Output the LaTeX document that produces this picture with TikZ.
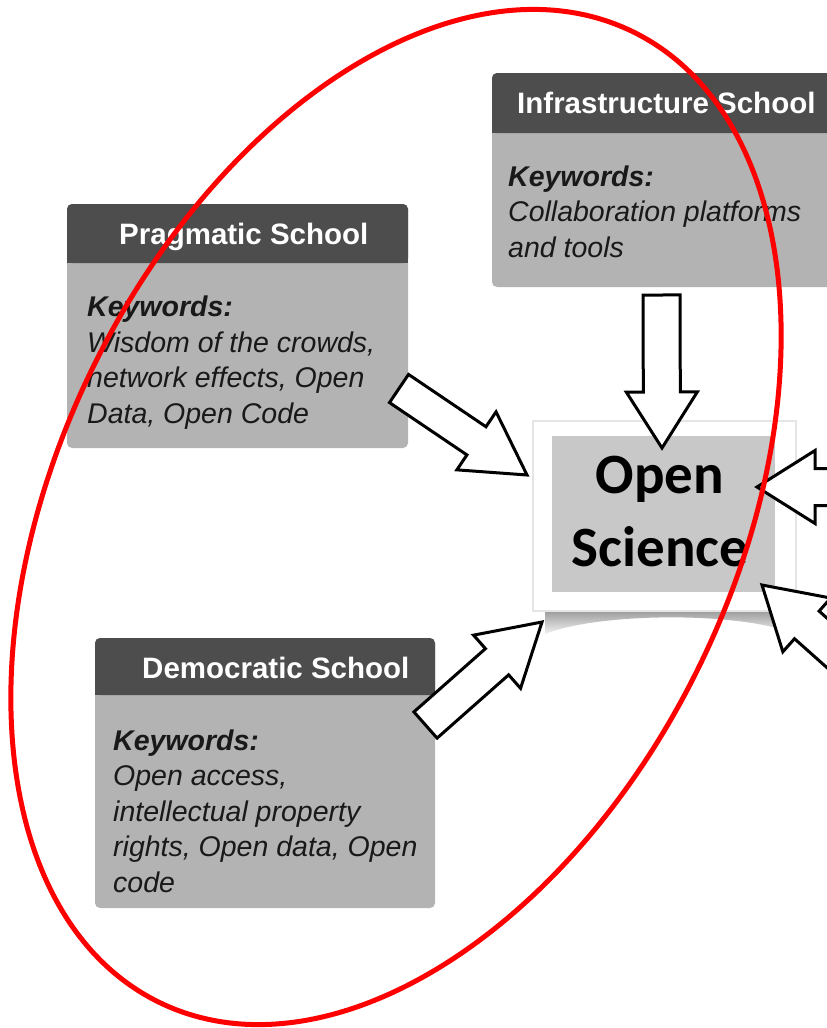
\documentclass[tikz,border=0pt]{standalone}
\usepackage{fontspec}
\setmainfont{Liberation Sans}
\newfontfamily\osfont{Carlito}
\usetikzlibrary{calc}
\definecolor{hdr}{HTML}{4D4D4D}
\definecolor{bdy}{HTML}{B3B3B3}
\definecolor{osbox}{HTML}{C8C8C8}
\definecolor{ringred}{HTML}{FF0000}
\tikzset{
  hdrtext/.style={anchor=base west, inner sep=0pt, text=white, font=\fontsize{29.5}{35}\selectfont\bfseries},
  bodytext/.style={anchor=base west, inner sep=0pt, align=left, text=black!90, font=\fontsize{28.5}{35.5}\selectfont\itshape},
  ostext/.style={anchor=base, inner sep=0pt, align=center, text=black, font=\osfont\fontsize{57}{73}\selectfont\bfseries},
  blockarrow/.style={draw=black, fill=white, line width=3pt, line join=miter},
  ring/.style={draw=ringred, line width=5pt}
}
\newcommand\schoolpanel[5]{%
  \fill[bdy, rounded corners=5pt] (#1,#2) rectangle (#4,#5);
  \fill[hdr, rounded corners=5pt] (#1,#2) rectangle (#4,#3);
  \fill[hdr] (#1,#3-8) rectangle (#4,#3);
}
% name, tail, tip, shaft half width, head half width, head length
\newcommand\blockarr[6]{%
  \coordinate (#1h) at ($(#3)!#6pt!(#2)$);
  \draw[blockarrow] ($(#2)!#4pt!90:(#3)$) -- ($(#1h)!#4pt!90:(#3)$) -- ($(#1h)!#5pt!90:(#3)$) -- (#3)
     -- ($(#1h)!#5pt!-90:(#3)$) -- ($(#1h)!#4pt!-90:(#3)$) -- ($(#2)!#4pt!-90:(#3)$) -- cycle;
}
\begin{document}
\begin{tikzpicture}[x=1pt,y=-1pt]
\useasboundingbox (0,0) rectangle (827,1028);
\clip (0,0) rectangle (827,1028);
\fill[white] (0,0) rectangle (827,1028);

% school panels
\schoolpanel{492}{73}{133}{860}{287}
\schoolpanel{67}{204}{263}{408}{448}
\schoolpanel{95}{638}{695}{435}{908}

% multi-line nodes: base anchor = baseline of the last line
\node[hdrtext] (infraH) at (517,113) {Infrastructure School};
\node[bodytext] (infraK) at (508,257) {\textbf{Keywords:}\\Collaboration platforms\\and tools};
\node[hdrtext] (pragH) at (119,244) {Pragmatic School};
\node[bodytext] (pragK) at (87,423) {\textbf{Keywords:}\\Wisdom of the crowds,\\network effects, Open\\Data, Open Code};
\node[hdrtext] (demoH) at (142,678) {Democratic School};
\node[bodytext] (demoK) at (113,892) {\textbf{Keywords:}\\Open access,\\intellectual property\\rights, Open data, Open\\code};

% central Open Science panel
\shade[top color=gray!80, bottom color=gray!10] (545,610) -- (792,610) -- (792,633)
   .. controls (740,612) and (600,612) .. (545,634) -- cycle;
\fill[white] (532,420) rectangle (797,612);
\draw[black!10, line width=2.5pt] (533,421) rectangle (796,611);
\fill[osbox] (552,436) rectangle (775,592);
\node[ostext] (os) at (660,566) {Open\\Science};

% arrows
\coordinate (infraS) at (661.5,295);
\coordinate (infraE) at (662,448);
\coordinate (pragS) at (399,388.5);
\coordinate (pragE) at (527,475);
\coordinate (demoS) at (425.5,725);
\coordinate (demoE) at (542,622);
\coordinate (r1S) at (910,487);
\coordinate (r1E) at (757,487);
\coordinate (r2S) at (881,691);
\coordinate (r2E) at (762,585);
\blockarr{a1}{infraS}{infraE}{18.5}{35.5}{56}
\blockarr{a2}{pragS}{pragE}{17}{35}{61}
\blockarr{a3}{demoS}{demoE}{17.5}{35.5}{60}
\blockarr{a4}{r1S}{r1E}{18.5}{36.5}{58}
\blockarr{a5}{r2S}{r2E}{18.5}{36}{60}

% red ellipse
\draw[ring, rotate around={64:(396,517)}] (396,517) ellipse [x radius=540, y radius=338];
\end{tikzpicture}
\end{document}
